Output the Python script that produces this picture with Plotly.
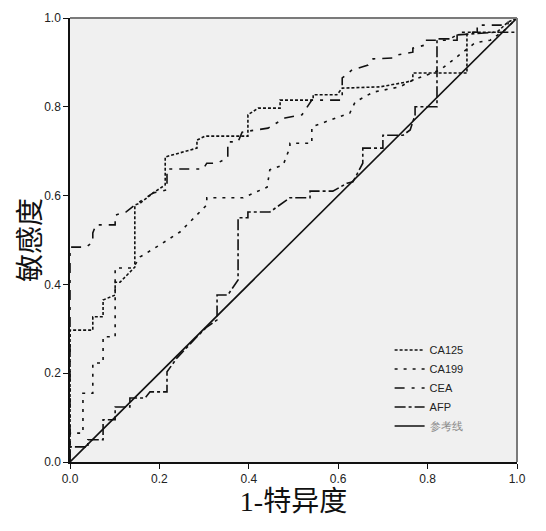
import plotly.graph_objects as go

# ROC curves: (1 - specificity, sensitivity)
ca125_fpr = [0, 0, 0.051, 0.051, 0.074, 0.074, 0.101, 0.101, 0.112, 0.141, 0.145, 0.145, 0.157, 0.186,
             0.213, 0.213, 0.284, 0.284, 0.302, 0.398, 0.398, 0.421, 0.470, 0.470, 0.544, 0.544, 0.597,
             0.609, 0.694, 0.754, 0.767, 0.767, 0.888, 0.888, 0.955, 0.980, 1.0]
ca125_tpr = [0, 0.297, 0.297, 0.327, 0.327, 0.365, 0.376, 0.405, 0.405, 0.437, 0.439, 0.579, 0.583, 0.606,
             0.624, 0.687, 0.707, 0.725, 0.734, 0.734, 0.782, 0.797, 0.797, 0.815, 0.815, 0.827, 0.827,
             0.842, 0.845, 0.856, 0.860, 0.876, 0.876, 0.968, 0.968, 0.991, 1.0]

ca199_fpr = [0, 0, 0.029, 0.029, 0.051, 0.051, 0.074, 0.074, 0.101, 0.101, 0.141, 0.157, 0.201, 0.246,
             0.306, 0.306, 0.387, 0.441, 0.447, 0.477, 0.492, 0.492, 0.541, 0.541, 0.626, 0.638, 0.678,
             0.738, 0.767, 0.828, 0.879, 0.906, 0.940, 0.973, 1.0]
ca199_tpr = [0, 0.065, 0.065, 0.155, 0.155, 0.223, 0.223, 0.282, 0.282, 0.437, 0.437, 0.462, 0.489, 0.518,
             0.579, 0.595, 0.595, 0.619, 0.658, 0.669, 0.709, 0.718, 0.718, 0.755, 0.786, 0.811, 0.833,
             0.845, 0.860, 0.883, 0.923, 0.944, 0.950, 0.973, 1.0]

cea_fpr = [0, 0, 0.036, 0.051, 0.051, 0.058, 0.101, 0.101, 0.125, 0.145, 0.186, 0.217, 0.217, 0.298,
           0.306, 0.329, 0.353, 0.353, 0.376, 0.385, 0.443, 0.481, 0.519, 0.541, 0.609, 0.609, 0.631,
           0.667, 0.678, 0.723, 0.734, 0.767, 0.767, 0.794, 0.794, 0.866, 0.866, 0.911, 0.911, 0.980,
           0.980, 1.0]
cea_tpr = [0, 0.484, 0.484, 0.495, 0.516, 0.534, 0.534, 0.556, 0.563, 0.579, 0.606, 0.613, 0.660, 0.660,
           0.673, 0.673, 0.685, 0.721, 0.721, 0.743, 0.752, 0.775, 0.782, 0.815, 0.815, 0.865, 0.883,
           0.894, 0.908, 0.910, 0.917, 0.923, 0.932, 0.939, 0.950, 0.950, 0.968, 0.968, 0.984, 0.984,
           1.0, 1.0]

afp_fpr = [0, 0, 0.040, 0.040, 0.074, 0.074, 0.101, 0.101, 0.134, 0.134, 0.168, 0.179, 0.217, 0.217,
           0.239, 0.262, 0.284, 0.306, 0.329, 0.329, 0.353, 0.376, 0.376, 0.398, 0.398, 0.447, 0.492,
           0.537, 0.537, 0.588, 0.620, 0.633, 0.655, 0.655, 0.700, 0.700, 0.745, 0.761, 0.772, 0.772,
           0.821, 0.821, 0.850, 0.866, 0.951, 1.0, 1.0]
afp_tpr = [0, 0.034, 0.034, 0.050, 0.050, 0.095, 0.095, 0.124, 0.124, 0.144, 0.144, 0.158, 0.158, 0.203,
           0.234, 0.259, 0.282, 0.304, 0.320, 0.376, 0.376, 0.410, 0.550, 0.550, 0.563, 0.563, 0.595,
           0.595, 0.610, 0.610, 0.628, 0.631, 0.673, 0.707, 0.707, 0.736, 0.736, 0.748, 0.782, 0.800,
           0.800, 0.953, 0.953, 0.962, 0.968, 0.968, 1.0]

ref_x = [0, 1]
ref_y = [0, 1]

tick_vals = [0, 0.2, 0.4, 0.6, 0.8, 1.0]
tick_text = ["0.0", "0.2", "0.4", "0.6", "0.8", "1.0"]

series = [
    ("CA125", ca125_fpr, ca125_tpr, "3px,2px"),
    ("CA199", ca199_fpr, ca199_tpr, "3px,6px"),
    ("CEA", cea_fpr, cea_tpr, "10px,7px,3px,7px"),
    ("AFP", afp_fpr, afp_tpr, "11px,3px,3px,3px"),
]

fig = go.Figure()
for name, xs, ys, dash in series:
    fig.add_trace(go.Scatter(x=xs, y=ys, mode="lines", name=name,
                             line=dict(color="#111111", width=1.6, dash=dash)))
fig.add_trace(go.Scatter(x=ref_x, y=ref_y, mode="lines",
                         name="<span style='color:#8a8a8a'>参考线</span>",
                         line=dict(color="#111111", width=1.6)))

fig.update_layout(
    width=538, height=523,
    margin=dict(l=62, r=29, t=10, b=69),
    paper_bgcolor="white",
    plot_bgcolor="#f0f0f0",
    font=dict(family="Liberation Sans, Arial, sans-serif", color="#222222", size=12),
    showlegend=True,
    legend=dict(x=0.715, y=0.285, xanchor="left", yanchor="top",
                bgcolor="rgba(0,0,0,0)", font=dict(size=11, family="Liberation Sans, Arial"),
                tracegroupgap=0, itemwidth=30),
)
fig.update_xaxes(range=[0, 1], tickvals=tick_vals, ticktext=tick_text,
                 showgrid=False, zeroline=False, automargin=False,
                 showline=True, linecolor="#111111", linewidth=1.5,
                 ticks="outside", ticklen=5, tickcolor="#111111", tickwidth=1.2,
                 title=dict(text="1-特异度", standoff=0,
                            font=dict(family="Liberation Serif, Noto Sans CJK SC", size=28, color="#111111")))
fig.update_yaxes(range=[0, 1], tickvals=tick_vals, ticktext=tick_text,
                 showgrid=False, zeroline=False, automargin=False,
                 showline=True, linecolor="#111111", linewidth=1.5,
                 ticks="outside", ticklen=5, tickcolor="#111111", tickwidth=1.2,
                 title=dict(text="敏感度",
                            font=dict(family="Noto Sans CJK SC", size=28, color="#111111")))
# grey frame on top and right
fig.add_shape(type="line", xref="paper", yref="paper", x0=0, x1=1, y0=1, y1=1,
              line=dict(color="#7a7a7a", width=2))
fig.add_shape(type="line", xref="paper", yref="paper", x0=1, x1=1, y0=0, y1=1,
              line=dict(color="#7a7a7a", width=2))

fig.write_html("out.html")
